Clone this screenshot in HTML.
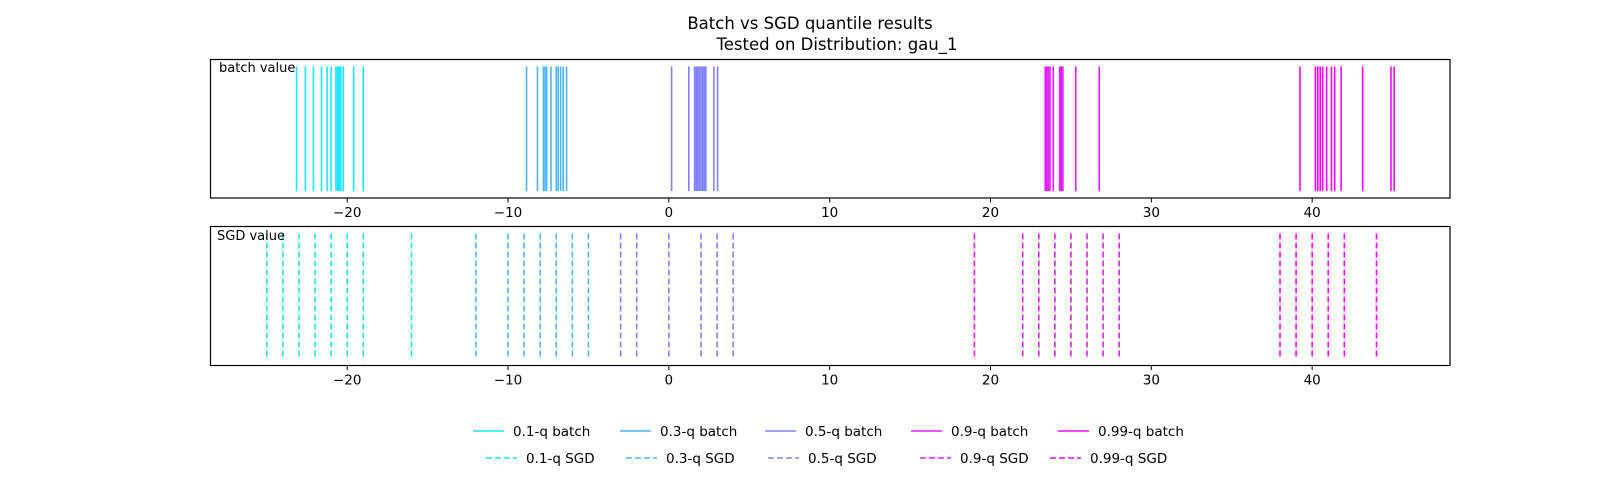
<!DOCTYPE html>
<html><head><meta charset="utf-8"><style>
body{margin:0;background:#fff;}
svg text{font-family:"DejaVu Sans","Liberation Sans",sans-serif;fill:#000;}
</style></head><body>
<svg id="chart" width="1620" height="481" xmlns="http://www.w3.org/2000/svg">
<text x="810" y="29" text-anchor="middle" font-size="16.5">Batch vs SGD quantile results</text>
<text x="837" y="50" text-anchor="middle" font-size="16.5">Tested on Distribution: gau_1</text>
<g id="marks"></g>
<rect x="210.5" y="59.5" width="1239.5" height="138.5" fill="none" stroke="#000" stroke-width="1.2"/>
<rect x="210.5" y="226.5" width="1239.5" height="139" fill="none" stroke="#000" stroke-width="1.2"/>
<text x="219" y="72" font-size="13">batch value</text>
<text x="217" y="240" font-size="13">SGD value</text>
<g id="axes"></g>
<g id="legend"></g>
</svg>
<script>
const ticks = [-20,-10,0,10,20,30,40];
const quantiles = ["0.1-q","0.3-q","0.5-q","0.9-q","0.99-q"];
const colors = ["#19e6ff","#4db3ff","#8080ff","#e61aff","#fc03ff"];
const batch01 = [-23.15,-22.6,-22.1,-21.6,-21.25,-21.0,-20.7,-20.6,-20.5,-20.4,-20.25,-19.6,-19.0];
const batch03 = [-8.85,-8.17,-7.8,-7.7,-7.6,-7.33,-7.0,-6.88,-6.73,-6.57,-6.36];
const batch05 = [0.17,1.24,1.6,1.7,1.8,1.9,2.0,2.1,2.2,2.3,2.8,3.03];
const batch09 = [23.4,23.5,23.6,23.7,23.9,24.3,24.4,24.5,25.3,26.76];
const batch099 = [39.24,40.2,40.35,40.5,40.65,40.9,41.2,41.4,41.8,43.14,44.9,45.1];
const sgd01 = [-25,-24,-23,-22,-21,-20,-19,-16];
const sgd03 = [-12,-10,-9,-8,-7,-6,-5];
const sgd05 = [-3,-2,0,2,3,4];
const sgd09 = [19,22,23,24,25,26,27,28];
const sgd099 = [38,39,40,41,42,44];
const batchSets=[batch01,batch03,batch05,batch09,batch099];
const sgdSets=[sgd01,sgd03,sgd05,sgd09,sgd099];
const NS="http://www.w3.org/2000/svg";
const X0=210.5,X1=1450,XMIN=-28.5,XMAX=48.57;
function xs(v){return X0+(v-XMIN)/(XMAX-XMIN)*(X1-X0);}
function ys(f,top,bot){return bot-f*(bot-top);}
const marks=document.getElementById('marks');
function vline(v,top,bot,color,dashed,name){
  const l=document.createElementNS(NS,'line');
  l.setAttribute('x1',xs(v));l.setAttribute('x2',xs(v));
  l.setAttribute('y1',ys(0.95,top,bot));l.setAttribute('y2',ys(0.05,top,bot));
  l.setAttribute('stroke',color);l.setAttribute('stroke-width','1.6');
  if(dashed)l.setAttribute('stroke-dasharray','6,3');
  
  
  marks.appendChild(l);
}
batchSets.forEach((s,i)=>s.forEach(v=>vline(v,59.5,198,colors[i],false,'batch-line')));
sgdSets.forEach((s,i)=>s.forEach(v=>vline(v,226.5,365.5,colors[i],true,'sgd-line')));
const axes=document.getElementById('axes');
[[198,'batch-x-tick'],[365.5,'sgd-x-tick']].forEach(([y,nm])=>{
  ticks.forEach(t=>{
    const l=document.createElementNS(NS,'line');
    l.setAttribute('x1',xs(t));l.setAttribute('x2',xs(t));l.setAttribute('y1',y);l.setAttribute('y2',y+4.5);
    l.setAttribute('stroke','#000');l.setAttribute('stroke-width','1');
    
    
    axes.appendChild(l);
    const tx=document.createElementNS(NS,'text');
    tx.setAttribute('x',xs(t));tx.setAttribute('y',y+19);tx.setAttribute('text-anchor','middle');tx.setAttribute('font-size','13.5');
    tx.textContent=t<0?'\u2212'+Math.abs(t):String(t);
    
    
    axes.appendChild(tx);
  });
});
const leg=document.getElementById('legend');
const row1=[513,660,805,951,1098], row2=[526,666,808,960,1090];
function legItem(tx,y,color,dashed,label){
  const l=document.createElementNS(NS,'line');
  l.setAttribute('x1',tx-40);l.setAttribute('x2',tx-9);l.setAttribute('y1',y);l.setAttribute('y2',y);
  l.setAttribute('stroke',color);l.setAttribute('stroke-width','1.6');
  if(dashed)l.setAttribute('stroke-dasharray','6,3');
  
  
  leg.appendChild(l);
  const t=document.createElementNS(NS,'text');
  t.setAttribute('x',tx);t.setAttribute('y',y+5);t.setAttribute('font-size','13.5');t.textContent=label;
  
  
  leg.appendChild(t);
}
quantiles.forEach((q,i)=>{legItem(row1[i],431,colors[i],false,q+' batch');legItem(row2[i],458,colors[i],true,q+' SGD');});
</script>
</body></html>
